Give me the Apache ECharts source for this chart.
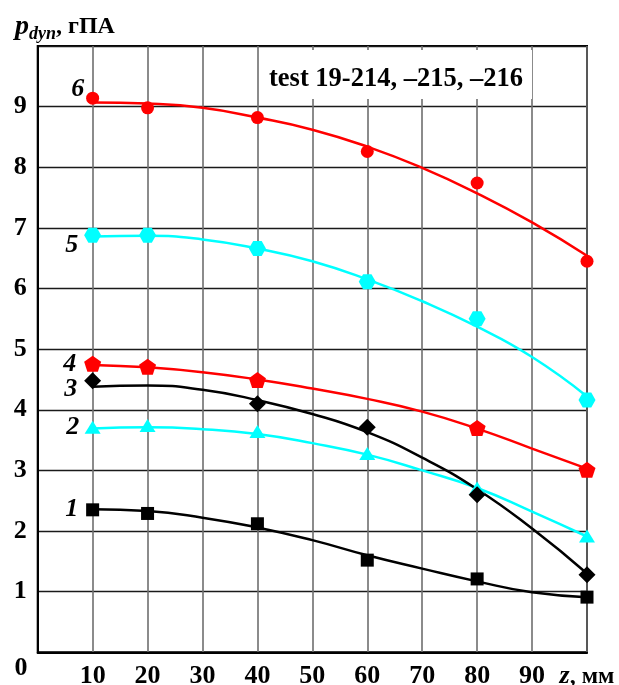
<!DOCTYPE html>
<html>
<head>
<meta charset="utf-8">
<script src="https://cdn.jsdelivr.net/npm/echarts@6/dist/echarts.min.js"></script>
<style>
html,body{margin:0;padding:0;background:#fff;}
#chart{width:619px;height:685px;}
</style>
</head>
<body>
<div id="chart"></div>
<script>
// ---- data ----
const curveX = [10, 20, 30, 40, 50, 60, 70, 80, 90, 100];
const curve1 = [2.36, 2.33, 2.22, 2.06, 1.85, 1.60, 1.38, 1.17, 0.99, 0.91];
const curve2 = [3.69, 3.71, 3.68, 3.60, 3.45, 3.26, 3.00, 2.71, 2.32, 1.91];
const curve3 = [4.38, 4.40, 4.33, 4.16, 3.93, 3.63, 3.21, 2.69, 2.04, 1.30];
const curve4 = [4.74, 4.70, 4.62, 4.50, 4.35, 4.18, 3.97, 3.69, 3.36, 3.03];
const curve5 = [6.86, 6.87, 6.81, 6.66, 6.45, 6.15, 5.79, 5.37, 4.87, 4.22];
const curve6 = [9.07, 9.05, 8.98, 8.82, 8.62, 8.34, 7.99, 7.57, 7.09, 6.54];

const pointsX1 = [10, 20, 40, 60, 80, 100];
const points1 = [2.35, 2.29, 2.12, 1.52, 1.21, 0.91];
const pointsX2 = [10, 20, 40, 60, 80, 100];
const points2 = [3.71, 3.74, 3.64, 3.28, 2.71, 1.92];
const pointsX3 = [10, 40, 60, 80, 100];
const points3 = [4.48, 4.10, 3.71, 2.60, 1.28];
const pointsX4 = [10, 20, 40, 80, 100];
const points4 = [4.76, 4.71, 4.49, 3.70, 3.01];
const pointsX5 = [10, 20, 40, 60, 80, 100];
const points5 = [6.88, 6.88, 6.66, 6.11, 5.50, 4.16];
const pointsX6 = [10, 20, 40, 60, 80, 100];
const points6 = [9.14, 8.98, 8.82, 8.26, 7.74, 6.45];

const curveNames = ['1', '2', '3', '4', '5', '6'];
const annotationText = 'test 19-214, –215, –216';
const yNameParts = ['p', 'dyn', ', гПА'];
const xNameParts = ['z', ', мм'];
const originLabel = '0';

// ---- styles ----
const FONT = "'Liberation Serif', 'DejaVu Serif', serif";
const RED = '#ff0000', CYAN = '#00ffff', BLACK = '#000000';
const PENTAGON = 'path://M0,-1L0.951,-0.309L0.588,0.809L-0.588,0.809L-0.951,-0.309Z';
const HEXAGON = 'path://M-1,0L-0.5,-0.866L0.5,-0.866L1,0L0.5,0.866L-0.5,0.866Z';

const zip = (xs, ys) => xs.map((x, i) => [x, ys[i]]);

const curveDefs = [
  {ys: curve1, color: BLACK},
  {ys: curve2, color: CYAN},
  {ys: curve3, color: BLACK},
  {ys: curve4, color: RED},
  {ys: curve5, color: CYAN},
  {ys: curve6, color: RED}
];
const pointDefs = [
  {xs: pointsX1, ys: points1, color: BLACK, symbol: 'rect', size: 13, off: [-21, -1]},
  {xs: pointsX2, ys: points2, color: CYAN, symbol: 'triangle', size: [16, 13], off: [-20, 0]},
  {xs: pointsX3, ys: points3, color: BLACK, symbol: 'diamond', size: [17, 17], off: [-22, 9]},
  {xs: pointsX4, ys: points4, color: RED, symbol: PENTAGON, size: [17, 16], off: [-23, 1]},
  {xs: pointsX5, ys: points5, color: CYAN, symbol: HEXAGON, size: [17, 15], off: [-21, 10]},
  {xs: pointsX6, ys: points6, color: RED, symbol: 'circle', size: 13, off: [-15, -9]}
];

const series = [];
curveDefs.forEach((c) => {
  series.push({
    type: 'line',
    data: zip(curveX, c.ys),
    smooth: 0.5,
    showSymbol: false,
    lineStyle: {color: c.color, width: 2.5},
    z: 3,
    silent: true
  });
});
pointDefs.forEach((p, k) => {
  const data = zip(p.xs, p.ys).map((d, i) => {
    if (i === 0) {
      return {
        value: d,
        label: {
          show: true,
          formatter: curveNames[k],
          position: 'inside',
          offset: p.off,
          color: '#000',
          fontFamily: FONT,
          fontStyle: 'italic',
          fontWeight: 'bold',
          fontSize: 26
        }
      };
    }
    return {value: d};
  });
  series.push({
    type: 'scatter',
    data: data,
    symbol: p.symbol,
    symbolSize: p.size,
    itemStyle: {color: p.color, opacity: 1},
    z: 5,
    silent: true
  });
});

const chart = echarts.init(document.getElementById('chart'), null, {renderer: 'canvas'});
chart.setOption({
  animation: false,
  backgroundColor: '#ffffff',
  title: {
    text: '{p|' + yNameParts[0] + '}{sub|' + yNameParts[1] + '}{n|' + yNameParts[2] + '}',
    left: 10,
    top: 6,
    textStyle: {
      rich: {
        p: {fontFamily: FONT, fontStyle: 'italic', fontWeight: 'bold', fontSize: 28, color: '#000', lineHeight: 32, verticalAlign: 'middle'},
        sub: {fontFamily: FONT, fontStyle: 'italic', fontWeight: 'bold', fontSize: 18, color: '#000', lineHeight: 18, verticalAlign: 'bottom'},
        n: {fontFamily: FONT, fontWeight: 'bold', fontSize: 24, color: '#000', lineHeight: 32, verticalAlign: 'middle'}
      }
    }
  },
  grid: {
    left: 37.7, right: 32, top: 46, bottom: 32.7,
    containLabel: false,
    outerBoundsMode: 'none',
    show: true, borderColor: '#000', borderWidth: 2, backgroundColor: 'transparent'
  },
  xAxis: {
    type: 'value', min: 0, max: 100, interval: 10,
    axisLine: {show: true, lineStyle: {color: '#000', width: 2}},
    axisTick: {show: false},
    splitLine: {show: true, lineStyle: {color: '#6e6e6e', width: 1.6}},
    axisLabel: {
      margin: 11,
      showMaxLabel: true,
      color: '#000', fontFamily: FONT, fontWeight: 'bold', fontSize: 26,
      formatter: (v) => {
        if (v === 0) return '';
        if (v === 100) return '{i|' + xNameParts[0] + '}{n|' + xNameParts[1] + '}';
        return String(v);
      },
      rich: {
        i: {fontFamily: FONT, fontStyle: 'italic', fontWeight: 'bold', fontSize: 26, color: '#000'},
        n: {fontFamily: FONT, fontWeight: 'bold', fontSize: 24, color: '#000'}
      }
    }
  },
  yAxis: {
    type: 'value', min: 0, max: 10, interval: 1,
    axisLine: {show: true, lineStyle: {color: '#000', width: 2}},
    axisTick: {show: false},
    splitLine: {show: true, lineStyle: {color: '#1a1a1a', width: 1.3}},
    axisLabel: {
      margin: 11,
      color: '#000', fontFamily: FONT, fontWeight: 'bold', fontSize: 26,
      formatter: (v) => (v === 0 || v === 10) ? '' : String(v)
    }
  },
  graphic: [
    {
      type: 'rect', z: 50,
      shape: {x: 263, y: 50, width: 269, height: 49},
      style: {fill: '#ffffff'}
    },
    {
      type: 'text', z: 51,
      x: 269, y: 79,
      style: {text: annotationText, fill: '#000', font: 'bold 26.5px ' + FONT, textAlign: 'left', textVerticalAlign: 'middle'}
    },
    {
      type: 'text', z: 51,
      x: 21, y: 668,
      style: {text: originLabel, fill: '#000', font: 'bold 26px ' + FONT, textAlign: 'center', textVerticalAlign: 'middle'}
    }
  ],
  series: series
});
</script>
</body>
</html>
